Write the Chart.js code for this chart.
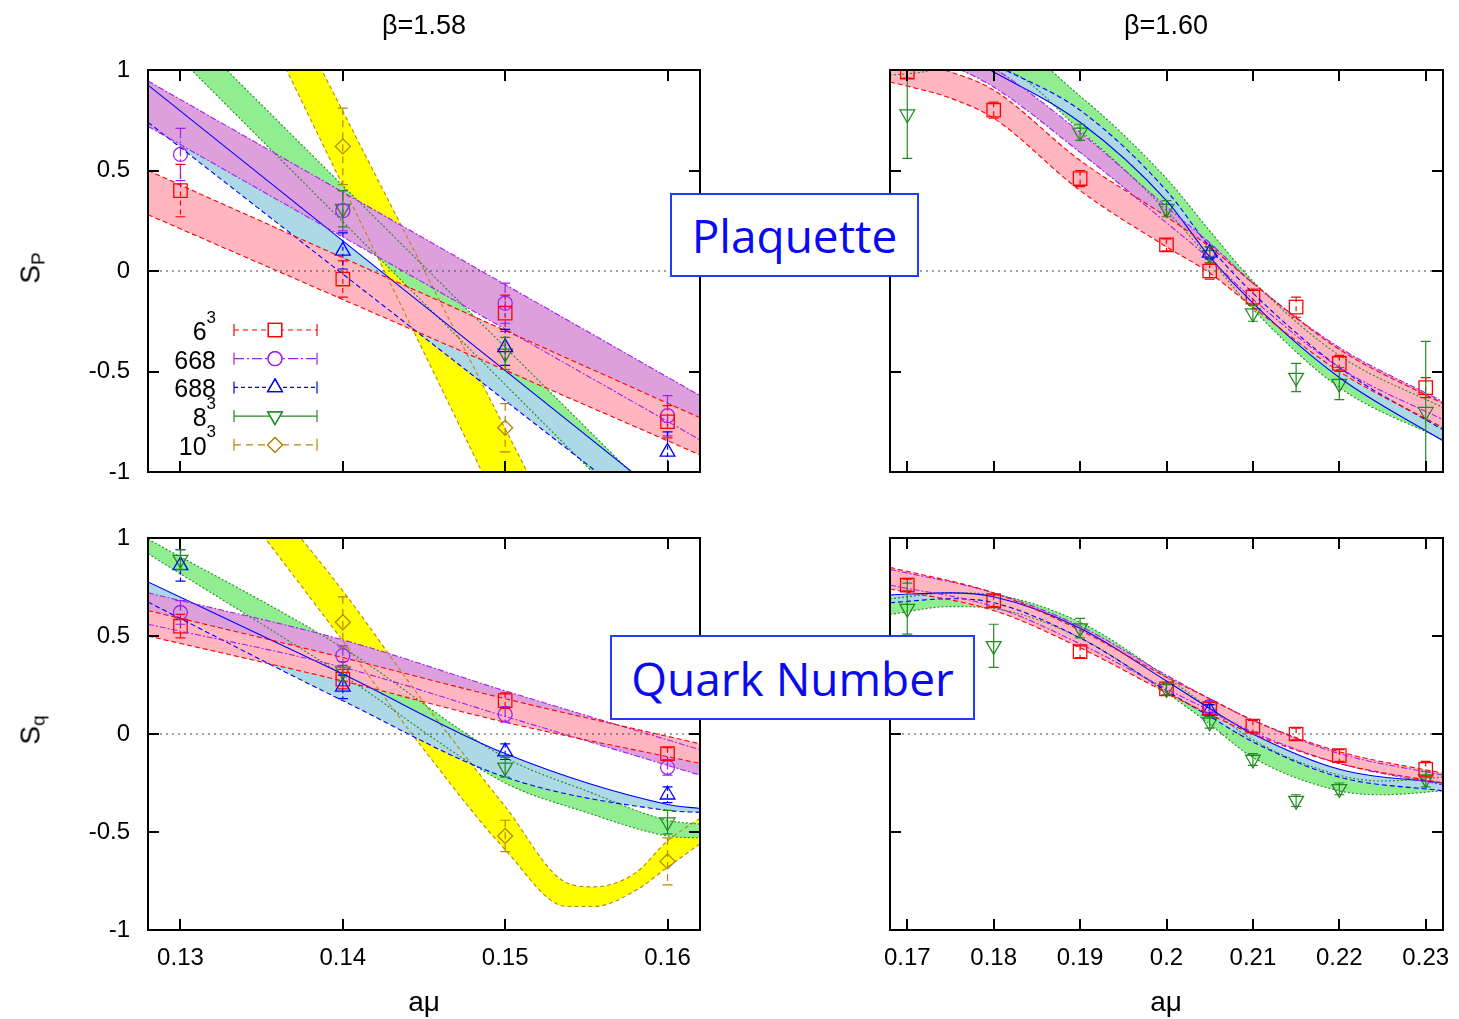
<!DOCTYPE html>
<html>
<head>
<meta charset="utf-8">
<script src="https://cdn.jsdelivr.net/npm/chart.js@4.4.1/dist/chart.umd.min.js"></script>
<style>
  body { margin: 0; background: #fff; width: 1459px; height: 1019px; position: relative; overflow: hidden;
         font-family: "Liberation Sans", Arial, sans-serif; color: #000; }
  canvas { position: absolute; left: 0; top: 0; }
  .txt { position: absolute; white-space: nowrap; transform: translate(-50%, -50%); }
  .title { font-size: 27px; }
  .xlab { font-size: 28px; }
  .ylab { font-size: 28px; transform: translate(-50%, -50%) rotate(-90deg); }
  .ylab sub { font-size: 19px; vertical-align: -5px; }
  .tag { position: absolute; box-sizing: border-box; border: 2px solid #1f3df5; background: #fff; color: #0a0af0;
         font-family: "Open Sans", "Noto Sans", sans-serif; font-size: 46px; display: flex; align-items: center;
         justify-content: center; z-index: 5; }
</style>
</head>
<body>
<canvas id="plaq158" width="1459" height="1019"></canvas>
<canvas id="plaq160" width="1459" height="1019"></canvas>
<canvas id="quark158" width="1459" height="1019"></canvas>
<canvas id="quark160" width="1459" height="1019"></canvas>

<div class="txt title" style="left:424px;top:25px">β=1.58</div>
<div class="txt title" style="left:1166px;top:25px">β=1.60</div>
<div class="txt xlab" style="left:424px;top:1002px">aμ</div>
<div class="txt xlab" style="left:1166px;top:1002px">aμ</div>
<div class="txt ylab" style="left:32px;top:268px">S<sub>P</sub></div>
<div class="txt ylab" style="left:32px;top:730px">S<sub>q</sub></div>
<div class="tag" style="left:670px;top:193px;width:249px;height:84px">Plaquette</div>
<div class="tag" style="left:610px;top:635px;width:365px;height:85px">Quark Number</div>

<script>
// ---- axis ticks ----
const muTicks158 = [0.13, 0.14, 0.15, 0.16];
const muTicks160 = [0.17, 0.18, 0.19, 0.2, 0.21, 0.22, 0.23];
const sTicks = [-1, -0.5, 0, 0.5, 1];
const legendKeys = ['L6', 'L668', 'L688', 'L8', 'L10'];
const legendText = [['6', '3'], ['668', ''], ['688', ''], ['8', '3'], ['10', '3']];

// ---- plaquette, beta = 1.58 ----
const pq158Mu = [0.13, 0.14, 0.15, 0.16];
const pq158L6 = [0.40, -0.04, -0.21, -0.75];
const pq158L6Err = [0.13, 0.09, 0.09, 0.08];
const pq158L668 = [0.58, 0.30, -0.16, -0.72];
const pq158L668Err = [0.13, 0.10, 0.10, 0.10];
const pq158L688 = [null, 0.10, -0.38, -0.90];
const pq158L688Err = [null, 0.09, 0.09, 0.10];
const pq158L8 = [null, 0.31, -0.41, null];
const pq158L8Err = [null, 0.09, 0.08, null];
const pq158L10 = [null, 0.62, -0.78, null];
const pq158L10Err = [null, 0.19, 0.12, null];

const pq158BandMu = [0.128, 0.162];
const pq158Band6Lo = [0.28, -0.915];
const pq158Band6Hi = [0.50, -0.73];
const pq158Band668Lo = [0.72, -0.84];
const pq158Band668Hi = [0.945, -0.62];
const pq158Band688Lo = [0.74, -1.40];
const pq158Band688Hi = [0.925, -1.27];
const pq158Band8Lo = [1.217, -1.537];
const pq158Band8Hi = [1.389, -1.344];
const pq158Band10Lo = [2.418, -3.23];
const pq158Band10Hi = [2.69, -2.68];

// ---- plaquette, beta = 1.60 ----
const pq160Mu = [0.17, 0.18, 0.19, 0.2, 0.205, 0.21, 0.215, 0.22, 0.23];
const pq160L6 = [0.99, 0.80, 0.46, 0.13, 0.00, -0.13, -0.18, -0.46, -0.58];
const pq160L6Err = [0.03, 0.04, 0.04, 0.03, 0.04, 0.04, 0.05, 0.04, 0.05];
const pq160L688 = [null, null, null, null, 0.09, null, null, null, null];
const pq160L688Err = [null, null, null, null, 0.03, null, null, null, null];
const pq160L8 = [0.78, null, 0.69, 0.31, 0.08, -0.21, -0.53, -0.56, -0.70];
const pq160L8Err = [0.22, null, 0.04, 0.04, 0.04, 0.04, 0.07, 0.08, 0.35];

const pq160Band6Mu = [0.168, 0.17, 0.175, 0.18, 0.19, 0.2, 0.205, 0.21, 0.22, 0.232];
const pq160Band6Lo = [0.94, 0.92, 0.86, 0.76, 0.40, 0.12, -0.01, -0.18, -0.50, -0.78];
const pq160Band6Hi = [1.05, 1.04, 0.99, 0.90, 0.55, 0.27, 0.12, -0.06, -0.39, -0.66];
const pq160Band668Mu = [0.168, 0.175, 0.18, 0.19, 0.2, 0.205, 0.21, 0.22, 0.232];
const pq160Band668Lo = [1.10, 1.02, 0.915, 0.59, 0.24, 0.06, -0.14, -0.48, -0.74];
const pq160Band668Hi = [1.20, 1.12, 1.01, 0.69, 0.32, 0.14, -0.06, -0.38, -0.65];
const pq160Band688Mu = [0.168, 0.175, 0.18, 0.19, 0.2, 0.205, 0.21, 0.22, 0.232];
const pq160Band688Lo = [1.20, 1.10, 0.99, 0.74, 0.35, 0.07, -0.16, -0.53, -0.845];
const pq160Band688Hi = [1.25, 1.15, 1.03, 0.80, 0.40, 0.12, -0.11, -0.48, -0.79];
const pq160Band8Mu = [0.168, 0.171, 0.175, 0.181, 0.19, 0.2, 0.205, 0.21, 0.22, 0.232];
const pq160Band8Lo = [0.975, 0.985, 1.01, 1.0, 0.70, 0.30, 0.06, -0.19, -0.58, -0.84];
const pq160Band8Hi = [1.10, 1.12, 1.15, 1.14, 0.87, 0.46, 0.20, -0.05, -0.42, -0.68];

// ---- quark number, beta = 1.58 ----
const qn158Mu = [0.13, 0.14, 0.15, 0.16];
const qn158L6 = [0.55, 0.28, 0.17, -0.10];
const qn158L6Err = [0.06, 0.05, 0.04, 0.03];
const qn158L668 = [0.62, 0.40, 0.10, -0.17];
const qn158L668Err = [0.06, 0.05, 0.04, 0.04];
const qn158L688 = [0.86, 0.24, -0.09, -0.31];
const qn158L688Err = [0.08, 0.06, 0.04, 0.04];
const qn158L8 = [0.89, 0.32, -0.17, -0.45];
const qn158L8Err = [0.05, 0.05, 0.05, 0.06];
const qn158L10 = [null, 0.57, -0.52, -0.65];
const qn158L10Err = [null, 0.13, 0.08, 0.12];

const qn158Band6Mu = [0.128, 0.14, 0.15, 0.162];
const qn158Band6Lo = [0.50, 0.27, 0.06, -0.15];
const qn158Band6Hi = [0.63, 0.39, 0.18, -0.05];
const qn158Band668Mu = [0.128, 0.14, 0.15, 0.162];
const qn158Band668Lo = [0.56, 0.34, 0.09, -0.21];
const qn158Band668Hi = [0.72, 0.48, 0.22, -0.08];
const qn158Band688Mu = [0.128, 0.14, 0.15, 0.16, 0.162];
const qn158Band688Lo = [0.673, 0.17, -0.22, -0.39, -0.40];
const qn158Band688Hi = [0.776, 0.306, -0.10, -0.36, -0.38];
const qn158Band8Mu = [0.128, 0.14, 0.15, 0.155, 0.16, 0.162];
const qn158Band8Lo = [0.92, 0.30, -0.25, -0.40, -0.52, -0.53];
const qn158Band8Hi = [0.995, 0.44, -0.12, -0.29, -0.44, -0.46];
const qn158Band10Mu = [0.133, 0.1352, 0.14, 0.145, 0.15, 0.1538, 0.1555, 0.158, 0.16, 0.162];
const qn158Band10Lo = [1.24, 1.00, 0.475, -0.08, -0.59, -0.88, -0.88, -0.80, -0.68, -0.56];
const qn158Band10Hi = [1.43, 1.22, 0.73, 0.16, -0.37, -0.76, -0.78, -0.71, -0.545, -0.43];

// ---- quark number, beta = 1.60 ----
const qn160Mu = [0.17, 0.18, 0.19, 0.2, 0.205, 0.21, 0.215, 0.22, 0.23];
const qn160L6 = [0.76, 0.68, 0.42, 0.23, 0.13, 0.04, 0.00, -0.11, -0.18];
const qn160L6Err = [0.03, 0.03, 0.03, 0.03, 0.03, 0.03, 0.03, 0.03, 0.04];
const qn160L668 = [null, null, null, null, 0.14, null, null, null, null];
const qn160L668Err = [null, null, null, null, 0.03, null, null, null, null];
const qn160L688 = [null, null, null, null, 0.12, null, null, null, null];
const qn160L688Err = [null, null, null, null, 0.03, null, null, null, null];
const qn160L8 = [0.64, 0.45, 0.54, 0.23, 0.06, -0.13, -0.34, -0.28, -0.23];
const qn160L8Err = [0.13, 0.11, 0.05, 0.03, 0.03, 0.03, 0.03, 0.03, 0.04];

const qn160Band6Mu = [0.168, 0.18, 0.19, 0.2, 0.205, 0.21, 0.22, 0.232];
const qn160Band6Lo = [0.74, 0.63, 0.44, 0.21, 0.10, 0.0, -0.15, -0.25];
const qn160Band6Hi = [0.85, 0.72, 0.53, 0.29, 0.18, 0.07, -0.09, -0.20];
const qn160Band668Mu = [0.168, 0.18, 0.19, 0.2, 0.205, 0.21, 0.22, 0.232];
const qn160Band668Lo = [0.76, 0.65, 0.46, 0.23, 0.12, 0.01, -0.15, -0.26];
const qn160Band668Hi = [0.84, 0.72, 0.55, 0.30, 0.18, 0.07, -0.10, -0.21];
const qn160Band688Mu = [0.168, 0.175, 0.18, 0.19, 0.2, 0.205, 0.21, 0.22, 0.232];
const qn160Band688Lo = [0.67, 0.69, 0.67, 0.49, 0.22, 0.09, -0.04, -0.22, -0.29];
const qn160Band688Hi = [0.71, 0.72, 0.70, 0.54, 0.27, 0.13, 0.0, -0.18, -0.25];
const qn160Band8Mu = [0.168, 0.175, 0.18, 0.19, 0.2, 0.205, 0.21, 0.22, 0.225, 0.232];
const qn160Band8Lo = [0.61, 0.65, 0.64, 0.49, 0.21, 0.05, -0.12, -0.29, -0.31, -0.29];
const qn160Band8Hi = [0.69, 0.72, 0.71, 0.57, 0.29, 0.13, -0.03, -0.21, -0.24, -0.22];

// line / marker look of each lattice
const SERIES = {
  L6:   { color: '#ff0000', fill: '#ffb6c1', dash: [5, 4],       edge: [5, 3],       style: 'rect',     radius: 9.5, rot: 0 },
  L668: { color: '#a020f0', fill: '#dda0dd', dash: [10, 3, 2, 3], edge: [6, 2, 2, 2], style: 'circle',   radius: 7,   rot: 0 },
  L688: { color: '#0000ff', fill: '#add8e6', dash: [4, 3],       edge: [5, 3],       style: 'triangle', radius: 8.5, rot: 0 },
  L8:   { color: '#228b22', fill: '#90ee90', dash: [],           edge: [2, 2],       style: 'triangle', radius: 8.5, rot: 180 },
  L10:  { color: '#b8860b', fill: '#ffff00', dash: [7, 5],       edge: [4, 3],       style: 'rectRot',  radius: 7.5, rot: 0 }
};

Chart.defaults.font.family = '"Liberation Sans", Arial, sans-serif';
Chart.defaults.color = '#000';

// frame with inward ticks + dotted zero line
const framePlugin = {
  id: 'frame',
  afterDatasetsDraw(chart, args, opts) {
    const { ctx, chartArea: a, scales } = chart;
    const y0 = scales.y.getPixelForValue(0);
    ctx.save();
    ctx.strokeStyle = '#444';
    ctx.lineWidth = 1.2;
    ctx.setLineDash([2, 4]);
    ctx.beginPath();
    ctx.moveTo(a.left, y0);
    ctx.lineTo(a.right, y0);
    ctx.stroke();
    ctx.restore();
  },
  afterDraw(chart, args, opts) {
    const { ctx, chartArea: a, scales } = chart;
    ctx.save();
    ctx.strokeStyle = '#000';
    ctx.lineWidth = 2;
    ctx.setLineDash([]);
    ctx.strokeRect(a.left, a.top, a.right - a.left, a.bottom - a.top);
    ctx.beginPath();
    opts.xTicks.forEach(v => {
      const x = Math.round(scales.x.getPixelForValue(v));
      ctx.moveTo(x, a.bottom); ctx.lineTo(x, a.bottom - 11);
      ctx.moveTo(x, a.top); ctx.lineTo(x, a.top + 11);
    });
    sTicks.forEach(v => {
      const y = Math.round(scales.y.getPixelForValue(v));
      ctx.moveTo(a.left, y); ctx.lineTo(a.left + 11, y);
      ctx.moveTo(a.right, y); ctx.lineTo(a.right - 11, y);
    });
    ctx.stroke();
    ctx.restore();
  }
};

function drawErrorBar(ctx, x, yTop, yBot, color, dash, cap) {
  ctx.strokeStyle = color;
  ctx.lineWidth = 1.2;
  ctx.setLineDash(dash);
  ctx.beginPath();
  ctx.moveTo(x, yTop); ctx.lineTo(x, yBot);
  ctx.stroke();
  ctx.setLineDash([]);
  ctx.beginPath();
  ctx.moveTo(x - cap, yTop); ctx.lineTo(x + cap, yTop);
  ctx.moveTo(x - cap, yBot); ctx.lineTo(x + cap, yBot);
  ctx.stroke();
}

// vertical error bars read from dataset.errors
const errorBarPlugin = {
  id: 'errorBars',
  afterDatasetsDraw(chart) {
    const { ctx, chartArea: a, scales } = chart;
    ctx.save();
    ctx.beginPath();
    ctx.rect(a.left, a.top, a.right - a.left, a.bottom - a.top);
    ctx.clip();
    chart.data.datasets.forEach(ds => {
      if (!ds.errors) return;
      ds.data.forEach((p, i) => {
        if (p.y === null || ds.errors[i] === null) return;
        const x = scales.x.getPixelForValue(p.x);
        const yt = scales.y.getPixelForValue(p.y + ds.errors[i]);
        const yb = scales.y.getPixelForValue(p.y - ds.errors[i]);
        drawErrorBar(ctx, x, yt, yb, ds.borderColor, ds.errorDash, 5);
      });
    });
    ctx.restore();
  }
};

// key in the upper-left panel
const latticeKeyPlugin = {
  id: 'latticeKey',
  afterDraw(chart, args, opts) {
    if (!opts.show) return;
    const { ctx, chartArea: a } = chart;
    const textRight = a.left + 68;
    const lineL = a.left + 86, lineR = a.left + 169, mid = a.left + 127;
    ctx.save();
    legendKeys.forEach((key, i) => {
      const s = SERIES[key];
      const y = a.top + 260 + i * 28.7;
      const [base, sup] = legendText[i];
      ctx.fillStyle = '#000';
      ctx.textBaseline = 'middle';
      ctx.textAlign = 'right';
      ctx.font = '17px "Liberation Sans", Arial, sans-serif';
      const supW = sup ? ctx.measureText(sup).width : 0;
      if (sup) ctx.fillText(sup, textRight, y - 12);
      ctx.font = '25px "Liberation Sans", Arial, sans-serif';
      ctx.fillText(base, textRight - supW, y + 3);
      // sample line with end caps
      ctx.strokeStyle = s.color;
      ctx.lineWidth = 1.2;
      ctx.setLineDash(s.dash);
      ctx.beginPath();
      ctx.moveTo(lineL, y); ctx.lineTo(lineR, y);
      ctx.stroke();
      ctx.setLineDash([]);
      ctx.beginPath();
      ctx.moveTo(lineL, y - 6); ctx.lineTo(lineL, y + 6);
      ctx.moveTo(lineR, y - 6); ctx.lineTo(lineR, y + 6);
      ctx.stroke();
      ctx.fillStyle = '#fff';
      Chart.helpers.drawPoint(ctx, { pointStyle: s.style, radius: s.radius, rotation: s.rot, borderWidth: 1.3 }, mid, y);
      ctx.stroke();
    });
    ctx.restore();
  }
};

function bandSets(key, mu, lo, hi, solidEdge) {
  const s = SERIES[key];
  const common = { borderColor: s.color, borderWidth: 1.1, pointRadius: 0, cubicInterpolationMode: 'monotone' };
  return [
    Object.assign({}, common, { data: mu.map((m, i) => ({ x: m, y: lo[i] })), borderDash: solidEdge === 'lo' ? [] : s.edge, fill: false }),
    Object.assign({}, common, { data: mu.map((m, i) => ({ x: m, y: hi[i] })), borderDash: solidEdge === 'hi' ? [] : s.edge,
                                fill: '-1', backgroundColor: s.fill })
  ];
}

function pointSet(key, mu, vals, errs) {
  const s = SERIES[key];
  return {
    data: mu.map((m, i) => ({ x: m, y: vals[i] })),
    errors: errs,
    errorDash: s.dash,
    showLine: false,
    borderColor: s.color,
    backgroundColor: 'rgba(0,0,0,0)',
    pointStyle: s.style,
    pointRadius: s.radius,
    pointRotation: s.rot,
    pointBorderWidth: 1.3,
    pointHoverRadius: s.radius
  };
}

function buildPanel(id, p) {
  new Chart(document.getElementById(id), {
    type: 'line',
    data: { datasets: p.datasets },
    plugins: [framePlugin, errorBarPlugin, latticeKeyPlugin],
    options: {
      responsive: false,
      animation: false,
      events: [],
      layout: { padding: p.padding },
      plugins: {
        legend: { display: false },
        tooltip: { enabled: false },
        filler: { drawTime: 'beforeDatasetsDraw' },
        frame: { xTicks: p.xTicks },
        latticeKey: { show: !!p.key }
      },
      scales: {
        x: {
          type: 'linear', min: p.xMin, max: p.xMax, display: p.showX,
          afterBuildTicks: sc => { sc.ticks = p.xTicks.map(v => ({ value: v })); },
          // keep the plot frame fixed even when end labels stick out
          afterFit: sc => { sc.height = p.showX ? 60 : 0; sc.paddingLeft = 0; sc.paddingRight = 0; },
          grid: { display: false, drawTicks: false },
          border: { display: false },
          ticks: { font: { size: 24 }, padding: 14, maxRotation: 0, autoSkip: false, callback: v => String(v) }
        },
        y: {
          type: 'linear', min: -1, max: 1, display: p.showY,
          afterBuildTicks: sc => { sc.ticks = sTicks.map(v => ({ value: v })); },
          afterFit: sc => { sc.width = p.showY ? 148 : 0; sc.paddingTop = 0; sc.paddingBottom = 0; },
          grid: { display: false, drawTicks: false },
          border: { display: false },
          ticks: { font: { size: 24 }, padding: 18, callback: v => String(v) }
        }
      }
    }
  });
}

buildPanel('plaq158', {
  padding: { top: 70, right: 759, bottom: 547, left: 0 },
  xMin: 0.128, xMax: 0.162, xTicks: muTicks158, showX: false, showY: true, key: true,
  datasets: [
    ...bandSets('L6', pq158BandMu, pq158Band6Lo, pq158Band6Hi),
    ...bandSets('L668', pq158BandMu, pq158Band668Lo, pq158Band668Hi),
    ...bandSets('L688', pq158BandMu, pq158Band688Lo, pq158Band688Hi, 'hi'),
    ...bandSets('L8', pq158BandMu, pq158Band8Lo, pq158Band8Hi),
    ...bandSets('L10', pq158BandMu, pq158Band10Lo, pq158Band10Hi),
    pointSet('L6', pq158Mu, pq158L6, pq158L6Err),
    pointSet('L668', pq158Mu, pq158L668, pq158L668Err),
    pointSet('L688', pq158Mu, pq158L688, pq158L688Err),
    pointSet('L8', pq158Mu, pq158L8, pq158L8Err),
    pointSet('L10', pq158Mu, pq158L10, pq158L10Err)
  ]
});

buildPanel('plaq160', {
  padding: { top: 70, right: 16, bottom: 547, left: 890 },
  xMin: 0.168, xMax: 0.232, xTicks: muTicks160, showX: false, showY: false,
  datasets: [
    ...bandSets('L6', pq160Band6Mu, pq160Band6Lo, pq160Band6Hi),
    ...bandSets('L668', pq160Band668Mu, pq160Band668Lo, pq160Band668Hi),
    ...bandSets('L688', pq160Band688Mu, pq160Band688Lo, pq160Band688Hi, 'lo'),
    ...bandSets('L8', pq160Band8Mu, pq160Band8Lo, pq160Band8Hi),
    pointSet('L6', pq160Mu, pq160L6, pq160L6Err),
    pointSet('L688', pq160Mu, pq160L688, pq160L688Err),
    pointSet('L8', pq160Mu, pq160L8, pq160L8Err)
  ]
});

buildPanel('quark158', {
  padding: { top: 538, right: 759, bottom: 29, left: 0 },
  xMin: 0.128, xMax: 0.162, xTicks: muTicks158, showX: true, showY: true,
  datasets: [
    ...bandSets('L6', qn158Band6Mu, qn158Band6Lo, qn158Band6Hi),
    ...bandSets('L668', qn158Band668Mu, qn158Band668Lo, qn158Band668Hi),
    ...bandSets('L688', qn158Band688Mu, qn158Band688Lo, qn158Band688Hi, 'hi'),
    ...bandSets('L8', qn158Band8Mu, qn158Band8Lo, qn158Band8Hi),
    ...bandSets('L10', qn158Band10Mu, qn158Band10Lo, qn158Band10Hi),
    pointSet('L6', qn158Mu, qn158L6, qn158L6Err),
    pointSet('L668', qn158Mu, qn158L668, qn158L668Err),
    pointSet('L688', qn158Mu, qn158L688, qn158L688Err),
    pointSet('L8', qn158Mu, qn158L8, qn158L8Err),
    pointSet('L10', qn158Mu, qn158L10, qn158L10Err)
  ]
});

buildPanel('quark160', {
  padding: { top: 538, right: 16, bottom: 29, left: 890 },
  xMin: 0.168, xMax: 0.232, xTicks: muTicks160, showX: true, showY: false,
  datasets: [
    ...bandSets('L6', qn160Band6Mu, qn160Band6Lo, qn160Band6Hi),
    ...bandSets('L668', qn160Band668Mu, qn160Band668Lo, qn160Band668Hi),
    ...bandSets('L688', qn160Band688Mu, qn160Band688Lo, qn160Band688Hi, 'hi'),
    ...bandSets('L8', qn160Band8Mu, qn160Band8Lo, qn160Band8Hi),
    pointSet('L6', qn160Mu, qn160L6, qn160L6Err),
    pointSet('L668', qn160Mu, qn160L668, qn160L668Err),
    pointSet('L688', qn160Mu, qn160L688, qn160L688Err),
    pointSet('L8', qn160Mu, qn160L8, qn160L8Err)
  ]
});
</script>
</body>
</html>
